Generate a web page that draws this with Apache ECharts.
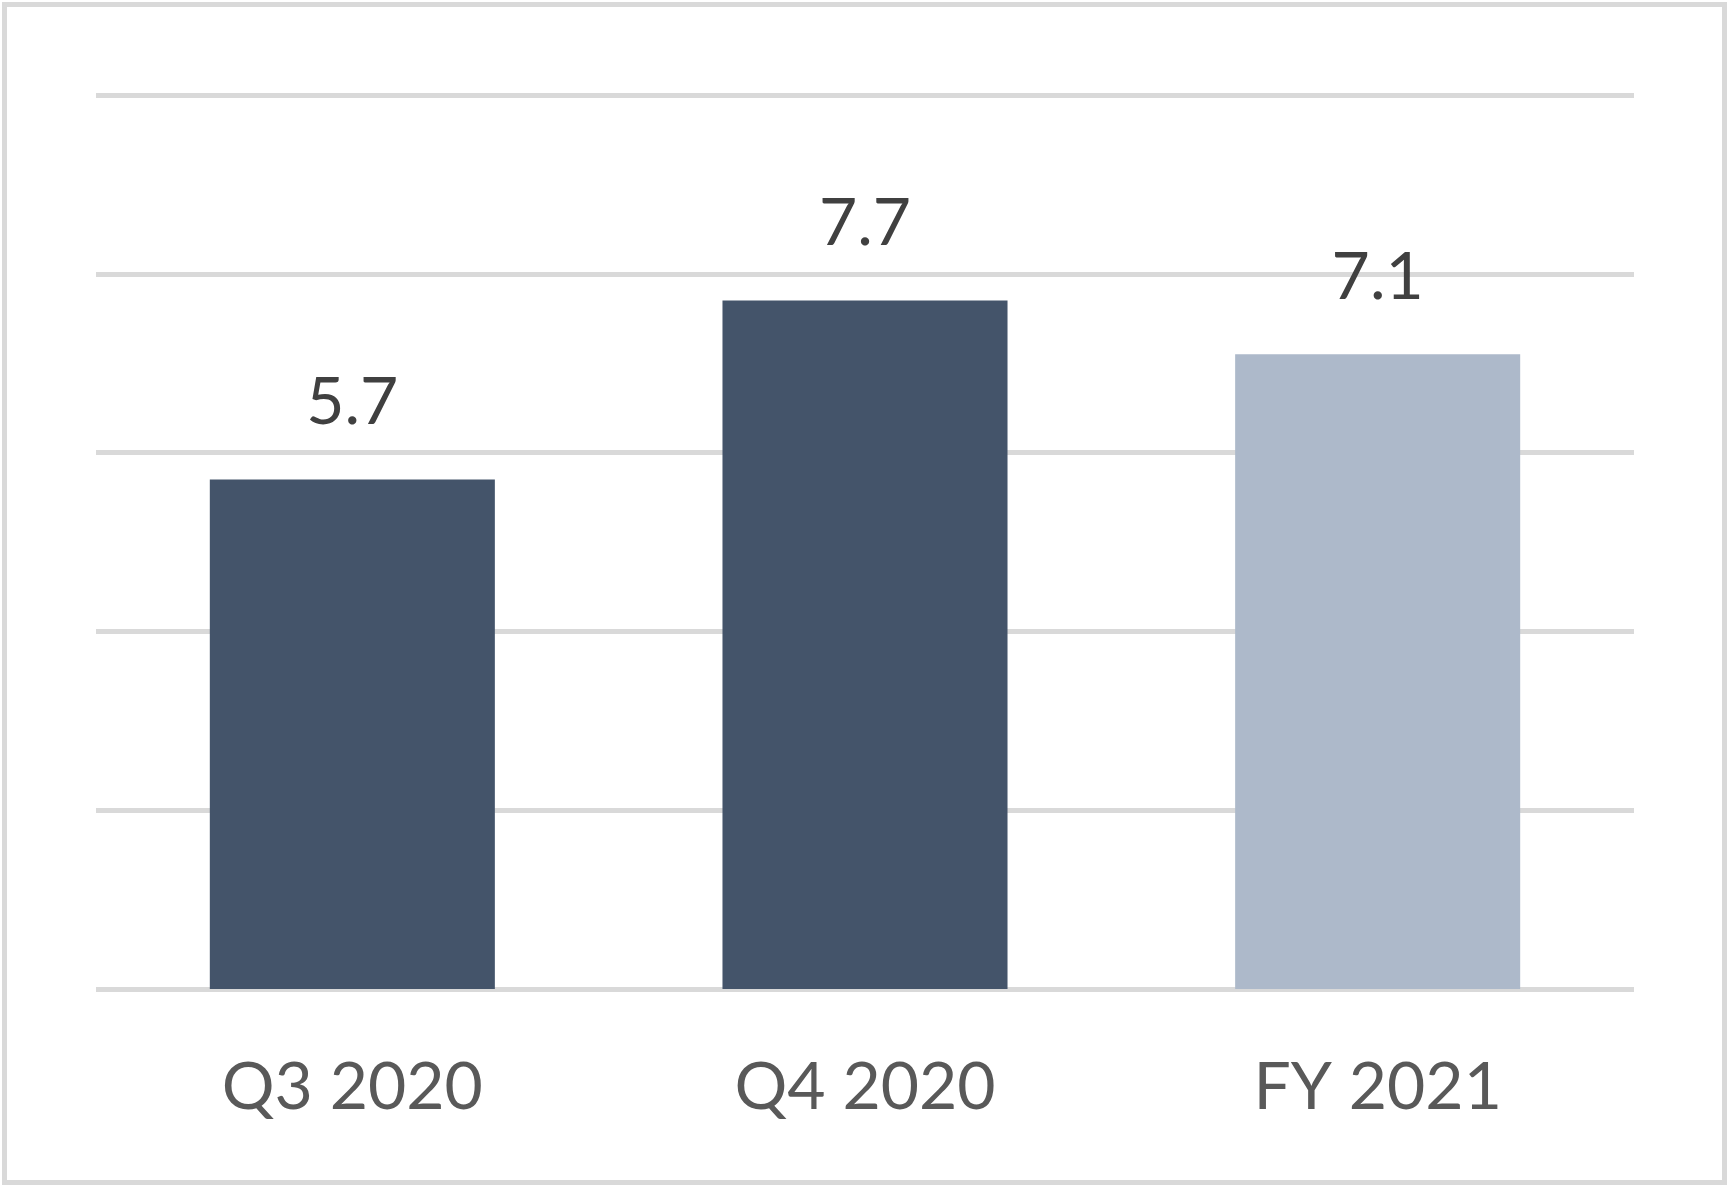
<!DOCTYPE html>
<html>
<head>
<meta charset="utf-8">
<script src="https://cdn.jsdelivr.net/npm/echarts@6/dist/echarts.min.js"></script>
<style>
  html, body { margin: 0; padding: 0; background: #fff; }
  #chart { width: 1729px; height: 1187px; }
</style>
</head>
<body>
<div id="chart"></div>
<script>
// chart data
const categories = ["Q3 2020", "Q4 2020", "FY 2021"];
const values = [5.7, 7.7, 7.1];
const barColors = ["#44546a", "#44546a", "#adb9ca"];

const chart = echarts.init(document.getElementById("chart"));

const option = {
  backgroundColor: "#ffffff",
  animation: false,
  // outer frame like the exported chart area
  graphic: [
    {
      type: "rect",
      shape: { x: 4.5, y: 4.5, width: 1720, height: 1178 },
      style: { fill: "none", stroke: "#d9d9d9", lineWidth: 5 },
      silent: true,
    },
  ],
  grid: {
    left: 96,
    right: 95,
    top: 95,
    bottom: 198,
  },
  xAxis: {
    type: "category",
    data: categories,
    axisLine: { show: false },
    axisTick: { show: false },
    axisLabel: {
      color: "#595959",
      fontFamily: "Lato, 'Open Sans', sans-serif",
      fontSize: 66,
      margin: 66,
    },
  },
  yAxis: {
    type: "value",
    min: 0,
    max: 10,
    interval: 2,
    axisLine: { show: false },
    axisTick: { show: false },
    axisLabel: { show: false },
    splitLine: {
      lineStyle: { color: "#d9d9d9", width: 5 },
    },
  },
  series: [
    {
      type: "bar",
      barWidth: "55.6%",
      data: values.map((v, i) => ({
        value: v,
        itemStyle: { color: barColors[i] },
      })),
      label: {
        show: true,
        position: "top",
        distance: 44,
        color: "#404040",
        fontFamily: "Lato, 'Open Sans', sans-serif",
        fontSize: 66,
        formatter: (p) => p.value.toFixed(1),
      },
    },
  ],
};

chart.setOption(option);
</script>
</body>
</html>
